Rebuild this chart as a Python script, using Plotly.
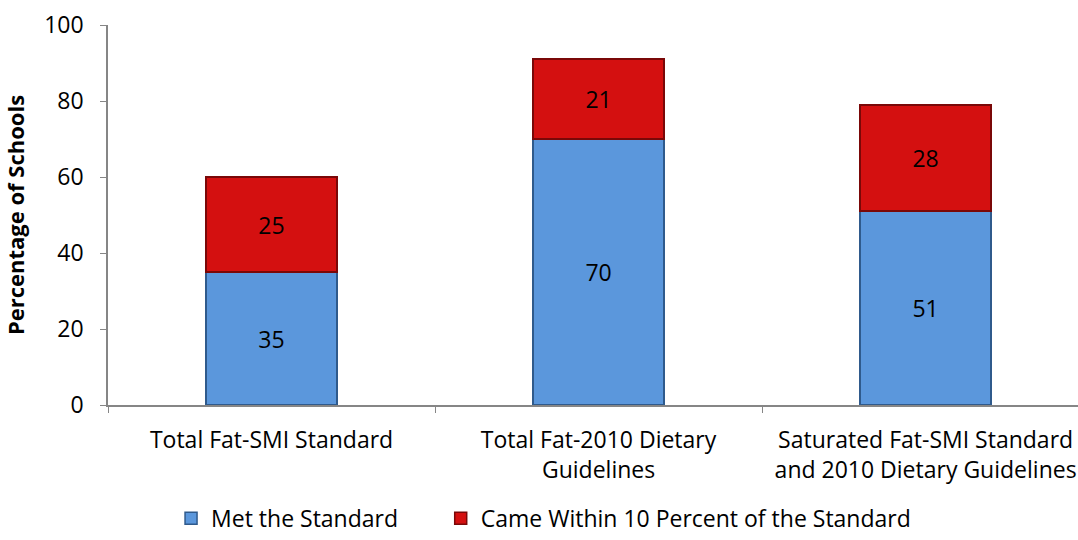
import plotly.graph_objects as go

categories = ["Total Fat-SMI Standard",
              "Total Fat-2010 Dietary<br>Guidelines",
              "Saturated Fat-SMI Standard<br>and 2010 Dietary Guidelines"]
met = [35, 70, 51]
within10 = [25, 21, 28]
series_names = ["Met the Standard", "Came Within 10 Percent of the Standard"]

FONT = "Open Sans, Liberation Sans, sans-serif"

fig = go.Figure()
fig.add_trace(go.Bar(
    x=categories, y=met, name=series_names[0], legend="legend",
    marker=dict(color="#5B97DC", line=dict(color="#2F5A8C", width=1.5)),
    text=[str(v) for v in met], textposition="inside", insidetextanchor="middle",
    textfont=dict(color="black", size=23, family=FONT), width=0.4,
))
fig.add_trace(go.Bar(
    x=categories, y=within10, name=series_names[1], legend="legend2",
    marker=dict(color="#D41010", line=dict(color="#7A0808", width=1.5)),
    text=[str(v) for v in within10], textposition="inside", insidetextanchor="middle",
    textfont=dict(color="black", size=23, family=FONT), width=0.4,
))

legend_common = dict(orientation="h", xanchor="left", y=-0.355, yanchor="bottom",
                     font=dict(size=23), itemwidth=30, bgcolor="rgba(0,0,0,0)",
                     tracegroupgap=0)

fig.update_layout(
    barmode="stack",
    width=1078, height=540,
    margin=dict(l=108, r=0, t=25, b=135, autoexpand=False),
    paper_bgcolor="white", plot_bgcolor="white",
    font=dict(family=FONT, size=22, color="black"),
    showlegend=True,
    legend=dict(x=0.065, **legend_common),
    legend2=dict(x=0.343, **legend_common),
    xaxis=dict(range=[-0.5, 2.466], showline=True, linecolor="#868686", linewidth=1.5,
               ticks="outside", tickson="boundaries", ticklen=6, tickcolor="#868686",
               tickfont=dict(size=23), showgrid=False, automargin=False,
               ticklabelstandoff=14),
    yaxis=dict(range=[0, 100], dtick=20, showline=True, linecolor="#868686", linewidth=1.5,
               ticks="outside", ticklen=6, tickcolor="#868686", showgrid=False,
               tickfont=dict(size=23), zeroline=False, automargin=False,
               ticklabelstandoff=12,
               title=dict(text="<b>Percentage of Schools</b>", font=dict(size=22), standoff=14)),
)

fig.write_html("out.html", config={"displayModeBar": False},
               post_script="document.body.style.margin='0';document.body.style.overflow='hidden';")
